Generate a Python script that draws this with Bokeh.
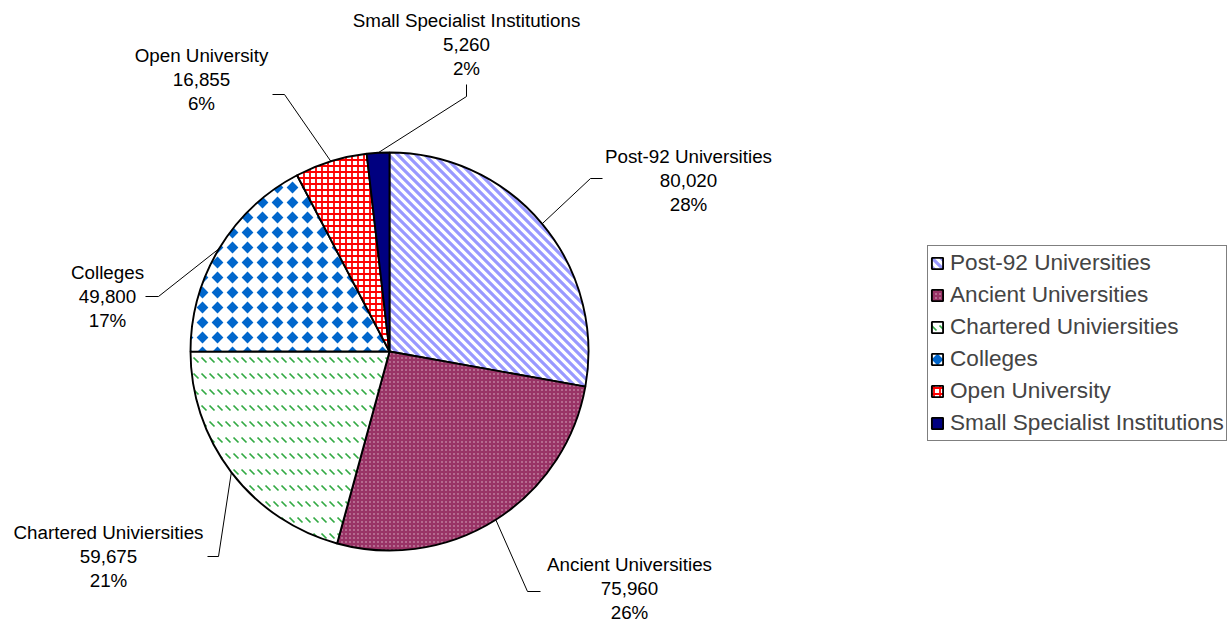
import math
from bokeh.plotting import figure
from bokeh.models import ColumnDataSource, Range1d, Legend, LegendItem, CanvasTexture
from bokeh.core.properties import value
from bokeh.embed import file_html
from bokeh.resources import INLINE

# ---- data ----
categories = ["Post-92 Universities", "Ancient Universities", "Chartered Univiersities",
              "Colleges", "Open University", "Small Specialist Institutions"]
students = [80020, 75960, 59675, 49800, 16855, 5260]

# ---- styles ----
fill_colors = ["#FFFFFF", "#993366", "#FFFFFF", "#FFFFFF", "#FFFFFF", "#000080"]
hatch_patterns = ["lavstripes", "whitedots", "greendashes", "bluediamonds", "+", " "]
hatch_colors = ["#9999FF", "#FFFFFF", "#33AA44", "#0066CC", "#FF0000", "#000080"]
hatch_scales = [1, 1, 1, 1, 6, 8]
hatch_weights = [1.0, 1.0, 1.0, 1.0, 1.8, 1.0]


def tile_code(size, body):
    return (f"const s = {size}; const cv = ctx.canvas; cv.width = s; cv.height = s;\n"
            "ctx.setTransform(1, 0, 0, 1, 0, 0); ctx.clearRect(0, 0, s, s);\n" + body)


textures = {
    "lavstripes": CanvasTexture(code=tile_code(9, """
        ctx.strokeStyle = '#9999FF'; ctx.lineWidth = 3.2; ctx.beginPath();
        for (const k of [-9, 0, 9]) { ctx.moveTo(k - 3, -3); ctx.lineTo(k + 12, 12); }
        ctx.stroke();""")),
    "whitedots": CanvasTexture(code=tile_code(4, """
        ctx.fillStyle = 'rgba(255,255,255,0.75)'; ctx.beginPath();
        ctx.arc(2, 2, 0.7, 0, 2 * Math.PI); ctx.fill();""")),
    "greendashes": CanvasTexture(code=tile_code(16, """
        ctx.strokeStyle = '#33AA44'; ctx.lineWidth = 1.7; ctx.beginPath();
        ctx.moveTo(1.5, 5.5); ctx.lineTo(6.5, 10.5);
        ctx.moveTo(9.5, 5.5); ctx.lineTo(14.5, 10.5);
        ctx.stroke();""")),
    "bluediamonds": CanvasTexture(code=tile_code(15, """
        ctx.fillStyle = '#0066CC'; ctx.beginPath();
        ctx.moveTo(7.5, 1.6); ctx.lineTo(13.4, 7.5); ctx.lineTo(7.5, 13.4); ctx.lineTo(1.6, 7.5);
        ctx.closePath(); ctx.fill();""")),
}

# ---- layout (reference pixel coords -> plot coords) ----
W, H = 1231, 625
def X(px): return px
def Y(py): return H - py

CX, CY, R = X(389), Y(351), 199
FONT = value("Liberation Sans")

label_pos = [(688, 180), (629, 588), (108, 556), (107, 296), (201, 79), (466, 44)]
knees = [(590, 178), (527, 591), (218, 556), (158, 296), (284, 94), (466, 96)]
tick_ends = [(602, 178), (540, 591), (207, 556), (145, 296), (272, 94), (466, 84)]
LINE_GAP = 23.8

# ---- derived ----
total = sum(students)
cum = [0.0]
for v in students:
    cum.append(cum[-1] + v / total)
starts = [math.pi / 2 - 2 * math.pi * cum[i + 1] for i in range(len(students))]
ends = [math.pi / 2 - 2 * math.pi * cum[i] for i in range(len(students))]

p = figure(width=W, height=H, x_range=Range1d(0, W), y_range=Range1d(0, H),
           output_backend="svg", toolbar_location=None, title=None,
           x_axis_type=None, y_axis_type=None, min_border=0,
           outline_line_color=None, background_fill_color="white")
p.grid.visible = False

src = ColumnDataSource(dict(name=categories, value=students, start=starts, end=ends,
                            fill=fill_colors, pat=hatch_patterns, hcolor=hatch_colors,
                            hscale=hatch_scales, hweight=hatch_weights))
r = p.wedge(x=CX, y=CY, radius=R, start_angle="start", end_angle="end",
            direction="anticlock", fill_color="fill", hatch_pattern="pat",
            hatch_color="hcolor", hatch_scale="hscale", hatch_weight="hweight",
            hatch_extra=textures, line_color="black", line_width=1.9, source=src)

# leader lines
xs, ys = [], []
for i in range(len(students)):
    mid = (starts[i] + ends[i]) / 2
    ex, ey = CX + R * math.cos(mid), CY + R * math.sin(mid)
    xs.append([X(tick_ends[i][0]), X(knees[i][0]), ex])
    ys.append([Y(tick_ends[i][1]), Y(knees[i][1]), ey])
p.multi_line(xs=xs, ys=ys, line_color="black", line_width=1)

# labels
tx, ty, tt = [], [], []
for i, (name, v) in enumerate(zip(categories, students)):
    pct = f"{round(100 * v / total)}%"
    lx, ly = label_pos[i]
    for k, line in enumerate([name, f"{v:,}", pct]):
        tx.append(X(lx))
        ty.append(Y(ly + (k - 1) * LINE_GAP))
        tt.append(line)
p.text(x=tx, y=ty, text=tt, text_font=FONT, text_font_size="18.8px",
       text_align="center", text_baseline="middle", text_color="black")

legend = Legend(
    items=[LegendItem(label=c, renderers=[r], index=i) for i, c in enumerate(categories)],
    location=(X(927), 184), orientation="vertical", padding=2, spacing=2,
    glyph_width=14, glyph_height=14, label_height=30, label_standoff=6,
    label_text_font="Liberation Sans", label_text_font_size="22.6px",
    border_line_color="black", border_line_width=1,
    background_fill_color="white", background_fill_alpha=1.0, margin=0)
p.add_layout(legend)

open("out.html", "w").write(file_html(p, INLINE))
